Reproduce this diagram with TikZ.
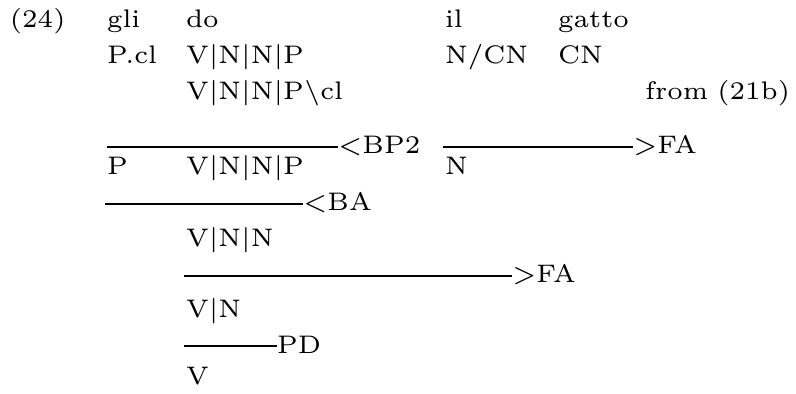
\documentclass[tikz,border=0pt]{standalone}
\usepackage{fontspec}
\newfontfamily\reffont{lmroman6-regular.otf}[WordSpace=0.85]
\tikzset{
  x=0.5pt, y=-0.5pt,
  txt/.style={anchor=base west, inner sep=0pt, outer sep=0pt, font=\reffont\fontsize{12.7}{15}\selectfont},
  lab/.style={txt},
  rule/.style={line width=1.4pt},
}
\begin{document}
\begin{tikzpicture}
\useasboundingbox (0,0) rectangle (796,394);
% row 1
\node[txt] (ex) at (10,28) {(24)};
\node[txt] (w1) at (107,28) {gli};
\node[txt] (w2) at (186,28) {do};
\node[txt] (w3) at (445,28) {il};
\node[txt] (w4) at (558,28) {gatto};
% row 2
\node[txt] (c1) at (107,64) {P.cl};
\node[txt] (c2) at (186,64) {V|N|N|P};
\node[txt] (c3) at (445,64) {N/CN};
\node[txt] (c4) at (558,64) {CN};
% row 3
\node[txt] (d2) at (186,100) {V|N|N|P\textbackslash cl};
\node[txt, anchor=base east] (from) at (790,100) {from (21b)};
% rule 1 and 2
\coordinate (r1s) at (107,147);
\node[lab] (r1) at (338,154) {<BP2};
\draw[rule] (r1s) -- (r1.base west |- r1s);
\coordinate (r2s) at (443,147);
\node[lab] (r2) at (633,154) {>FA};
\draw[rule] (r2s) -- (r2.base west |- r2s);
% row 4
\node[txt] (e1) at (107,175) {P};
\node[txt] (e2) at (186,175) {V|N|N|P};
\node[txt] (e3) at (445,175) {N};
% rule 3
\coordinate (r3s) at (105,204);
\node[lab] (r3) at (303,211) {<BA};
\draw[rule] (r3s) -- (r3.base west |- r3s);
% row 5
\node[txt] (f2) at (186,247) {V|N|N};
% rule 4
\coordinate (r4s) at (184,276);
\node[lab] (r4) at (512,283) {>FA};
\draw[rule] (r4s) -- (r4.base west |- r4s);
% row 6
\node[txt] (g2) at (186,318) {V|N};
% rule 5
\coordinate (r5s) at (184,346);
\node[lab] (r5) at (277,354) {PD};
\draw[rule] (r5s) -- (r5.base west |- r5s);
% row 7
\node[txt] (h2) at (186,385) {V};
\end{tikzpicture}
\end{document}
